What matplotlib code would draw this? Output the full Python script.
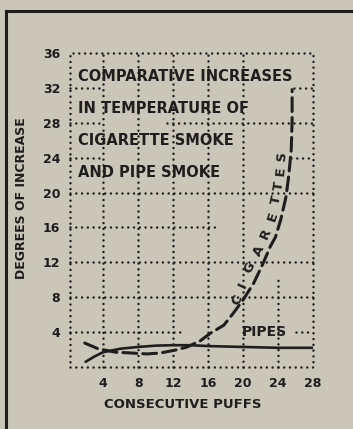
import matplotlib.pyplot as plt
from matplotlib.lines import Line2D

# Puff numbers and temperature rise (degrees)
pipe_puffs = [2.0, 3.0, 4.0, 6.0, 8.0, 10.0, 12.0, 14.0, 16.0, 20.0, 24.0, 28.0]
pipe_rise = [0.6, 1.2, 1.7, 2.1, 2.3, 2.45, 2.5, 2.5, 2.4, 2.3, 2.2, 2.2]

cig_puffs = [1.9, 3.4, 5.4, 7.3, 9.0, 10.5, 12.3, 13.6, 15.1, 16.3, 17.8, 18.9,
             20.0, 21.2, 22.2, 23.1, 23.7, 24.3, 24.9, 25.2, 25.5, 25.6, 25.6]
cig_rise = [2.75, 2.1, 1.7, 1.6, 1.5, 1.6, 1.95, 2.3, 3.0, 3.9, 4.8, 6.2,
            7.7, 9.6, 11.7, 13.8, 14.9, 16.9, 19.5, 21.8, 24.9, 28.3, 31.8]

x_ticks = [4, 8, 12, 16, 20, 24, 28]
y_ticks = [4, 8, 12, 16, 20, 24, 28, 32, 36]

title = "COMPARATIVE INCREASES\nIN TEMPERATURE OF\nCIGARETTE SMOKE\nAND PIPE SMOKE"

INK = "#1e1e1e"
PAPER = "#cac6b8"
FONT = dict(family="DejaVu Sans", weight="bold", color=INK)


def dotted(ax, xs, ys):
    """Draw one dotted rule (round dots) in data coordinates."""
    ax.plot(xs, ys, color=INK, lw=1.8, linestyle=(0, (0.01, 2.3)),
            dash_capstyle="round", clip_on=False, zorder=1)


fig = plt.figure(figsize=(3.53, 4.29), dpi=100, facecolor=PAPER)
ax = fig.add_axes([0.198, 0.1445, 0.689, 0.732])
ax.set_facecolor(PAPER)
ax.set_xlim(0.2, 28)
ax.set_ylim(0, 36)
for s in ax.spines.values():
    s.set_visible(False)

# dotted frame
dotted(ax, [0.2, 28, 28, 0.2, 0.2], [0, 0, 36, 36, 0])
# vertical rules
for xv in [4, 8, 12, 16, 20]:
    dotted(ax, [xv, xv], [0, 36])
dotted(ax, [24, 24], [0, 10])
# horizontal rules, broken where the lettering sits
for yv in [8, 12, 20]:
    dotted(ax, [0.2, 28], [yv, yv])
dotted(ax, [0.2, 17], [16, 16])
dotted(ax, [0.2, 13.4], [4, 4])
dotted(ax, [26, 28], [4, 4])
dotted(ax, [0.2, 3.7], [24, 24])
dotted(ax, [25.5, 28], [24, 24])
dotted(ax, [0.2, 3.7], [28, 28])
dotted(ax, [11.3, 28], [28, 28])
dotted(ax, [0.2, 3.7], [32, 32])
dotted(ax, [25.8, 28], [32, 32])

# curves
ax.plot(pipe_puffs, pipe_rise, color=INK, lw=1.9, solid_capstyle="round",
        zorder=3)
ax.plot(cig_puffs, cig_rise, color=INK, lw=2.2, dashes=(4.5, 2),
        dash_capstyle="round", zorder=3)

ax.set_xticks(x_ticks)
ax.set_yticks(y_ticks)
ax.tick_params(length=0, pad=7)
for lab in ax.get_xticklabels() + ax.get_yticklabels():
    lab.set_fontfamily("DejaVu Sans")
    lab.set_fontweight("bold")
    lab.set_fontsize(9)
    lab.set_color(INK)

ax.text(1.15, 27.8, title, fontsize=10.5, ha="left", va="center",
        linespacing=2.4, zorder=4, **FONT)
ax.text(19.9, 4.0, "PIPES", fontsize=10, ha="left", va="center", zorder=4,
        **FONT)

# curve label set letter by letter along the cigarette line
letters = list("CIGARETTES")
spots = [(19.3, 7.7, 64), (20.0, 9.4, 64), (20.7, 11.4, 64), (21.8, 13.3, 64),
         (22.6, 15.3, 66), (23.4, 17.3, 72), (23.8, 19.2, 78), (24.1, 20.8, 82),
         (24.3, 22.4, 85), (24.4, 24.2, 86)]
for ch, (lx, ly, rot) in zip(letters, spots):
    ax.text(lx, ly, ch, fontsize=9.5, rotation=rot, ha="center", va="center",
            zorder=4, **FONT)

fig.text(0.062, 0.538, "DEGREES OF INCREASE", rotation=90, fontsize=9,
         ha="center", va="center", **FONT)
fig.text(0.518, 0.056, "CONSECUTIVE PUFFS", fontsize=9.5, ha="center",
         va="center", **FONT)

# heavy border round the panel
fig.add_artist(Line2D([0.017, 0.017], [0.0, 0.975], color=INK, lw=2.2,
                      transform=fig.transFigure))
fig.add_artist(Line2D([0.017, 1.0], [0.975, 0.975], color=INK, lw=2.2,
                      transform=fig.transFigure))

fig.savefig("out.png", dpi=100, facecolor=PAPER)
